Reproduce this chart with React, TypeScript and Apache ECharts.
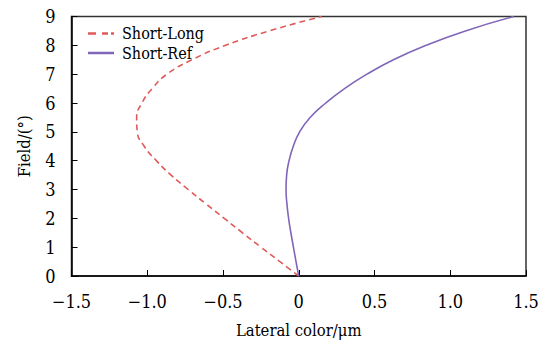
import React, { useEffect, useRef } from "react";
import * as echarts from "echarts";

const fieldValues = [0, 0.5, 1, 1.5, 2, 2.5, 3, 3.5, 4, 4.5, 5, 5.5, 6, 6.5, 7, 7.5, 8, 8.5, 9];
const shortLong = [0, -0.125, -0.25, -0.372, -0.492, -0.612, -0.73, -0.843, -0.94, -1.02, -1.066, -1.07, -1.035, -0.968, -0.87, -0.705, -0.483, -0.195, 0.15];
const shortRef = [0, -0.018, -0.035, -0.052, -0.067, -0.078, -0.084, -0.08, -0.064, -0.036, 0.006, 0.075, 0.178, 0.302, 0.45, 0.625, 0.84, 1.1, 1.42];
const seriesNames = ["Short-Long", "Short-Ref"];
const xAxisName = "Lateral color/μm";
const yAxisName = "Field/(°)";

const FONT = "DejaVu Serif Condensed";

export default function App() {
  const ref = useRef<HTMLDivElement>(null);
  useEffect(() => {
    if (!ref.current) return;
    const chart = echarts.init(ref.current, undefined, { renderer: "svg" });
    const toPairs = (xs: number[]) => xs.map((x, i) => [x, fieldValues[i]]);
    chart.setOption({
      animation: false,
      grid: {
        left: 71.5,
        right: 22,
        top: 16.5,
        bottom: 67,
        show: true,
        borderColor: "#333",
        borderWidth: 1.5,
        outerBoundsMode: "none",
      },
      legend: {
        orient: "vertical",
        left: 83,
        top: 20,
        itemWidth: 26,
        itemHeight: 10,
        itemGap: 2.5,
        data: [
          { name: seriesNames[0], icon: "path://M0,0h8v2.5h-8zM14,0h6v2.5h-6zM23,0h3v2.5h-3z" },
          { name: seriesNames[1], icon: "path://M0,0h26v2.5h-26z" },
        ],
        textStyle: { fontFamily: FONT, fontSize: 16, color: "#000", lineHeight: 17, padding: [0, 0, 0, 3] },
      },
      xAxis: {
        type: "value",
        min: -1.5,
        max: 1.5,
        interval: 0.5,
        name: xAxisName,
        nameLocation: "middle",
        nameGap: 46,
        nameTextStyle: { fontFamily: FONT, fontSize: 16.5, color: "#000" },
        axisLine: { show: true, onZero: false, lineStyle: { color: "#000", width: 1.5 } },
        axisTick: { show: true, inside: true, length: 6, lineStyle: { color: "#000" } },
        splitLine: { show: false },
        axisLabel: {
          fontFamily: FONT,
          fontSize: 18,
          color: "#000",
          margin: 16,
          formatter: (v: number) => (v === 0 ? "0" : (v < 0 ? "\u2212" : "") + Math.abs(v).toFixed(1)),
        },
      },
      yAxis: {
        type: "value",
        min: 0,
        max: 9,
        interval: 1,
        name: yAxisName,
        nameLocation: "middle",
        nameGap: 39,
        nameTextStyle: { fontFamily: FONT, fontSize: 16.5, color: "#000" },
        axisLine: { show: true, onZero: false, lineStyle: { color: "#000", width: 1.5 } },
        axisTick: { show: true, inside: true, length: 6, lineStyle: { color: "#000" } },
        splitLine: { show: false },
        axisLabel: { fontFamily: FONT, fontSize: 18, color: "#000", margin: 16 },
      },
      series: [
        {
          name: seriesNames[0],
          type: "line",
          data: toPairs(shortLong),
          smooth: 0.5,
          symbol: "none",
          lineStyle: { color: "#e05a5a", width: 1.6, type: [6, 4] },
          itemStyle: { color: "#e05a5a" },
        },
        {
          name: seriesNames[1],
          type: "line",
          data: toPairs(shortRef),
          smooth: 0.5,
          symbol: "none",
          lineStyle: { color: "#7f66b8", width: 1.6 },
          itemStyle: { color: "#7f66b8" },
        },
      ],
    });
    return () => chart.dispose();
  }, []);
  return (
    <div
      ref={ref}
      style={{ position: "absolute", left: 0, top: 0, width: 548, height: 343, background: "#fff" }}
    />
  );
}
